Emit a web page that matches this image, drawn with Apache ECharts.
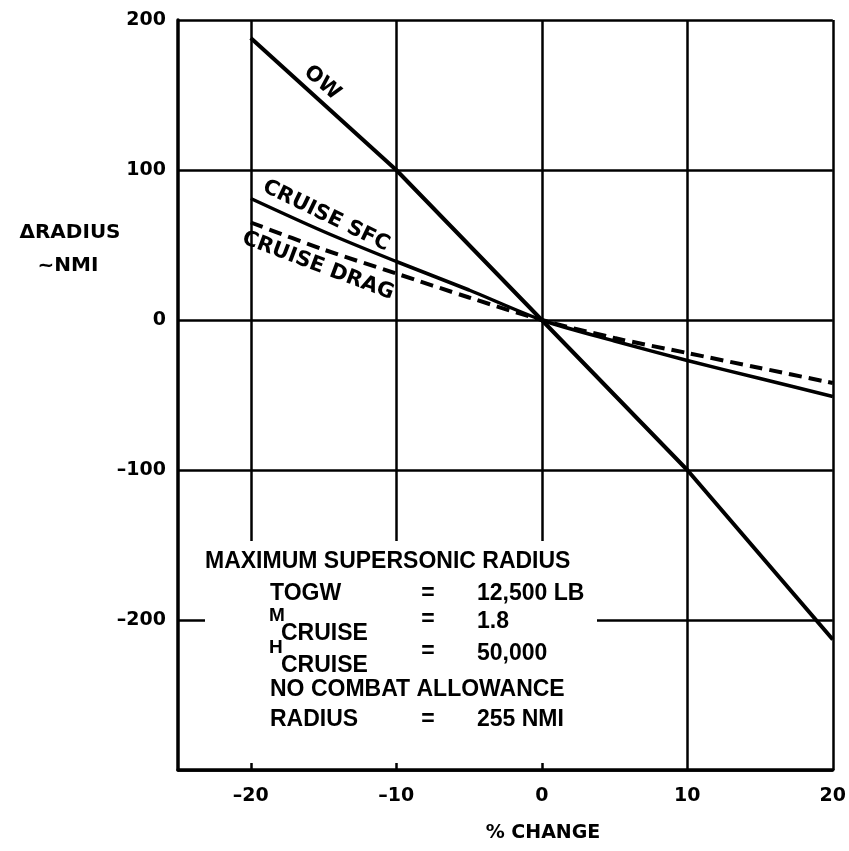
<!DOCTYPE html>
<html><head><meta charset="utf-8">
<script src="https://cdn.jsdelivr.net/npm/echarts@6/dist/echarts.min.js"></script>
<style>html,body{margin:0;padding:0;background:#fff}#c{width:849px;height:851px}</style>
</head><body><div id="c"></div>
<script>
// ---- data ----
const pctChange = [-20, -15, -10, -5, 0, 5, 10, 15, 20];
const owX = [-20, -10, 0, 10, 20];
const owValues = [188, 100, 0, -100, -213];
const sfcValues = [81, 59, 39, 20, 0, -14, -27, -39, -51];
const dragValues = [65, 47, 31, 15, 0, -12, -22, -32, -42];
const xTickLabels = { '-20': '–20', '-10': '–10', '0': '0', '10': '10', '20': '20' };
const yTickLabels = { '200': '200', '100': '100', '0': '0', '-100': '–100', '-200': '–200' };

const chart = echarts.init(document.getElementById('c'), null, { renderer: 'canvas' });
const LBL = 'bold 21px "DejaVu Sans"';
const BOX = 'bold 23px "Liberation Sans"';
function txt(x, y, text, font, align, rot) {
  return {
    type: 'text', x: x, y: y, rotation: rot || 0, z: 20,
    style: { text: text, font: font, fill: '#000', textAlign: align || 'left', textVerticalAlign: 'middle', align: align || 'left', verticalAlign: 'middle' }
  };
}
const option = {
  animation: false,
  backgroundColor: '#fff',
  grid: { left: 178, right: 11, top: 20, bottom: 81, containLabel: false },
  xAxis: {
    type: 'value', min: -25, max: 20, interval: 5,
    axisLine: { show: true, onZero: false, lineStyle: { color: '#000', width: 3.5 } },
    axisTick: { show: false },
    axisLabel: {
      formatter: v => (xTickLabels[String(v)] !== undefined ? xTickLabels[String(v)] : ''),
      color: '#000', fontFamily: 'DejaVu Sans', fontWeight: 'bold', fontSize: 19, margin: 17,
      showMinLabel: true, showMaxLabel: true, hideOverlap: false
    },
    splitLine: { show: true, lineStyle: { color: ['rgba(0,0,0,0)', '#000'], width: 2.5 } }
  },
  yAxis: {
    type: 'value', min: -300, max: 200, interval: 100,
    axisLine: { show: true, onZero: false, lineStyle: { color: '#000', width: 3.5 } },
    axisTick: { show: false },
    axisLabel: {
      formatter: v => (yTickLabels[String(v)] !== undefined ? yTickLabels[String(v)] : ''),
      color: '#000', fontFamily: 'DejaVu Sans', fontWeight: 'bold', fontSize: 19, margin: 12
    },
    splitLine: { show: true, lineStyle: { color: '#000', width: 2.5 } }
  },
  series: [
    {
      name: 'OW', type: 'line', z: 10, symbol: 'none', silent: true,
      data: owX.map((x, i) => [x, owValues[i]]),
      lineStyle: { color: '#000', width: 4 }
    },
    {
      name: 'CRUISE SFC', type: 'line', z: 10, symbol: 'none', silent: true, smooth: 0.3,
      data: pctChange.map((x, i) => [x, sfcValues[i]]),
      lineStyle: { color: '#000', width: 3.5 }
    },
    {
      name: 'CRUISE DRAG', type: 'line', z: 10, symbol: 'none', silent: true, smooth: 0.3,
      data: pctChange.map((x, i) => [x, dragValues[i]]),
      lineStyle: { color: '#000', width: 4, type: [13, 7] }
    }
  ],
  graphic: [
    { type: 'rect', z: 5, shape: { x: 205, y: 541, width: 392, height: 222 }, style: { fill: '#fff' } },
    txt(322, 83, 'OW', LBL, 'center', -0.72),
    txt(326, 216, 'CRUISE SFC', LBL, 'center', -0.45),
    txt(318, 266, 'CRUISE DRAG', LBL, 'center', -0.36),
    txt(70, 233, 'ΔRADIUS', 'bold 20px "DejaVu Sans"', 'center'),
    txt(68, 266, '~NMI', 'bold 20px "DejaVu Sans"', 'center'),
    txt(543, 833, '% CHANGE', 'bold 19px "DejaVu Sans"', 'center'),
    txt(205, 562, 'MAXIMUM SUPERSONIC RADIUS', BOX, 'left'),
    txt(270, 594, 'TOGW', BOX, 'left'),
    txt(428, 594, '=', BOX, 'center'),
    txt(477, 594, '12,500 LB', BOX, 'left'),
    txt(269, 616, 'M', 'bold 19px "Liberation Sans"', 'left'),
    txt(281, 634, 'CRUISE', BOX, 'left'),
    txt(428, 620, '=', BOX, 'center'),
    txt(477, 622, '1.8', BOX, 'left'),
    txt(269, 648, 'H', 'bold 19px "Liberation Sans"', 'left'),
    txt(281, 666, 'CRUISE', BOX, 'left'),
    txt(428, 652, '=', BOX, 'center'),
    txt(477, 654, '50,000', BOX, 'left'),
    txt(270, 690, 'NO COMBAT ALLOWANCE', BOX, 'left'),
    txt(270, 720, 'RADIUS', BOX, 'left'),
    txt(428, 720, '=', BOX, 'center'),
    txt(477, 720, '255 NMI', BOX, 'left')
  ]
};
chart.setOption(option);
</script>
</body></html>
